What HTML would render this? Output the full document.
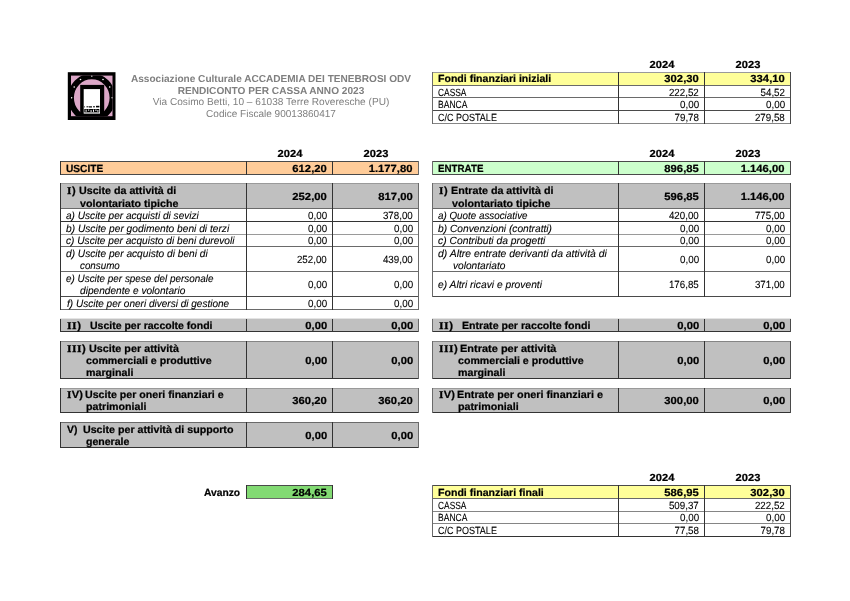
<!DOCTYPE html>
<html><head><meta charset="utf-8"><title>Rendiconto per cassa 2023</title>
<style>
html,body{margin:0;padding:0;background:#fff}
#p{position:relative;width:850px;height:601px;overflow:hidden;background:#fff;font-family:"Liberation Sans",sans-serif;will-change:transform;text-rendering:geometricPrecision}
#p div{position:absolute}
.t{position:absolute;white-space:pre;line-height:1;display:block}
.b{font-weight:bold}.k{-webkit-text-stroke:0.22px #000}.n{-webkit-text-stroke:0.1px #000}.i{font-style:italic}.s{font-family:"Liberation Serif",serif;font-style:normal;-webkit-text-stroke:0.3px #000;letter-spacing:0.5px}
</style></head><body><div id="p">
<div style="left:432px;top:72px;width:359px;height:14px;background:#FFFF99"></div>
<div style="left:60px;top:161px;width:359px;height:14px;background:#FFCC99"></div>
<div style="left:432px;top:161px;width:359px;height:14px;background:#CCFFCC"></div>
<div style="left:60px;top:183px;width:359px;height:26px;background:#C0C0C0"></div>
<div style="left:432px;top:183px;width:359px;height:26px;background:#C0C0C0"></div>
<div style="left:60px;top:318px;width:359px;height:1px;background:#e4e4e4"></div>
<div style="left:60px;top:319px;width:359px;height:13px;background:#C0C0C0"></div>
<div style="left:432px;top:318px;width:359px;height:1px;background:#e4e4e4"></div>
<div style="left:432px;top:319px;width:359px;height:13px;background:#C0C0C0"></div>
<div style="left:60px;top:341px;width:359px;height:38px;background:#C0C0C0"></div>
<div style="left:432px;top:341px;width:359px;height:38px;background:#C0C0C0"></div>
<div style="left:60px;top:388px;width:359px;height:25px;background:#C0C0C0"></div>
<div style="left:432px;top:388px;width:359px;height:25px;background:#C0C0C0"></div>
<div style="left:60px;top:422px;width:359px;height:26px;background:#C0C0C0"></div>
<div style="left:246px;top:485px;width:87px;height:14px;background:#82DA73"></div>
<div style="left:432px;top:485px;width:359px;height:14px;background:#FFFF99"></div>
<div style="left:432px;top:72px;width:359px;height:1px;background:#9a9a9a"></div>
<div style="left:432px;top:85px;width:359px;height:1px;background:#6a6a6a"></div>
<div style="left:432px;top:97px;width:359px;height:1px;background:#6a6a6a"></div>
<div style="left:432px;top:110px;width:359px;height:1px;background:#4a4a4a"></div>
<div style="left:432px;top:123px;width:359px;height:1px;background:#858585"></div>
<div style="left:60px;top:161px;width:359px;height:1px;background:#4a4a4a"></div>
<div style="left:60px;top:174px;width:359px;height:1px;background:#4a4a4a"></div>
<div style="left:432px;top:161px;width:359px;height:1px;background:#4a4a4a"></div>
<div style="left:432px;top:174px;width:359px;height:1px;background:#4a4a4a"></div>
<div style="left:60px;top:183px;width:359px;height:1px;background:#9a9a9a"></div>
<div style="left:60px;top:208px;width:359px;height:1px;background:#6a6a6a"></div>
<div style="left:432px;top:183px;width:359px;height:1px;background:#9a9a9a"></div>
<div style="left:432px;top:208px;width:359px;height:1px;background:#6a6a6a"></div>
<div style="left:60px;top:221px;width:359px;height:1px;background:#333333"></div>
<div style="left:60px;top:234px;width:359px;height:1px;background:#9a9a9a"></div>
<div style="left:60px;top:246px;width:359px;height:1px;background:#6a6a6a"></div>
<div style="left:60px;top:271px;width:359px;height:1px;background:#6a6a6a"></div>
<div style="left:60px;top:296px;width:359px;height:1px;background:#4a4a4a"></div>
<div style="left:60px;top:309px;width:359px;height:1px;background:#6a6a6a"></div>
<div style="left:432px;top:221px;width:359px;height:1px;background:#333333"></div>
<div style="left:432px;top:234px;width:359px;height:1px;background:#9a9a9a"></div>
<div style="left:432px;top:246px;width:359px;height:1px;background:#6a6a6a"></div>
<div style="left:432px;top:271px;width:359px;height:1px;background:#6a6a6a"></div>
<div style="left:432px;top:296px;width:359px;height:1px;background:#4a4a4a"></div>
<div style="left:60px;top:331px;width:359px;height:1px;background:#333333"></div>
<div style="left:432px;top:331px;width:359px;height:1px;background:#333333"></div>
<div style="left:60px;top:341px;width:359px;height:1px;background:#858585"></div>
<div style="left:60px;top:378px;width:359px;height:1px;background:#333333"></div>
<div style="left:432px;top:341px;width:359px;height:1px;background:#858585"></div>
<div style="left:432px;top:378px;width:359px;height:1px;background:#333333"></div>
<div style="left:60px;top:388px;width:359px;height:1px;background:#9a9a9a"></div>
<div style="left:60px;top:412px;width:359px;height:1px;background:#333333"></div>
<div style="left:432px;top:388px;width:359px;height:1px;background:#9a9a9a"></div>
<div style="left:432px;top:412px;width:359px;height:1px;background:#333333"></div>
<div style="left:60px;top:422px;width:359px;height:1px;background:#6a6a6a"></div>
<div style="left:60px;top:447px;width:359px;height:1px;background:#333333"></div>
<div style="left:246px;top:485px;width:87px;height:1px;background:#4a4a4a"></div>
<div style="left:246px;top:498px;width:87px;height:1px;background:#6a6a6a"></div>
<div style="left:432px;top:485px;width:359px;height:1px;background:#4a4a4a"></div>
<div style="left:432px;top:498px;width:359px;height:1px;background:#6a6a6a"></div>
<div style="left:432px;top:511px;width:359px;height:1px;background:#858585"></div>
<div style="left:432px;top:523px;width:359px;height:1px;background:#858585"></div>
<div style="left:432px;top:536px;width:359px;height:1px;background:#333333"></div>
<div style="left:432px;top:72px;width:1px;height:14px;background:#6a6a6a"></div>
<div style="left:618px;top:72px;width:1px;height:14px;background:#333333"></div>
<div style="left:704px;top:72px;width:1px;height:14px;background:#333333"></div>
<div style="left:790px;top:72px;width:1px;height:14px;background:#4a4a4a"></div>
<div style="left:432px;top:85px;width:1px;height:13px;background:#6a6a6a"></div>
<div style="left:618px;top:85px;width:1px;height:13px;background:#333333"></div>
<div style="left:704px;top:85px;width:1px;height:13px;background:#333333"></div>
<div style="left:790px;top:85px;width:1px;height:13px;background:#4a4a4a"></div>
<div style="left:432px;top:97px;width:1px;height:14px;background:#6a6a6a"></div>
<div style="left:618px;top:97px;width:1px;height:14px;background:#333333"></div>
<div style="left:704px;top:97px;width:1px;height:14px;background:#333333"></div>
<div style="left:790px;top:97px;width:1px;height:14px;background:#4a4a4a"></div>
<div style="left:432px;top:110px;width:1px;height:14px;background:#6a6a6a"></div>
<div style="left:618px;top:110px;width:1px;height:14px;background:#333333"></div>
<div style="left:704px;top:110px;width:1px;height:14px;background:#333333"></div>
<div style="left:790px;top:110px;width:1px;height:14px;background:#4a4a4a"></div>
<div style="left:60px;top:161px;width:1px;height:14px;background:#333333"></div>
<div style="left:246px;top:161px;width:1px;height:14px;background:#333333"></div>
<div style="left:332px;top:161px;width:1px;height:14px;background:#333333"></div>
<div style="left:418px;top:161px;width:1px;height:14px;background:#6a6a6a"></div>
<div style="left:432px;top:161px;width:1px;height:14px;background:#6a6a6a"></div>
<div style="left:618px;top:161px;width:1px;height:14px;background:#333333"></div>
<div style="left:704px;top:161px;width:1px;height:14px;background:#333333"></div>
<div style="left:790px;top:161px;width:1px;height:14px;background:#4a4a4a"></div>
<div style="left:60px;top:183px;width:1px;height:26px;background:#333333"></div>
<div style="left:246px;top:183px;width:1px;height:26px;background:#333333"></div>
<div style="left:332px;top:183px;width:1px;height:26px;background:#333333"></div>
<div style="left:418px;top:183px;width:1px;height:26px;background:#6a6a6a"></div>
<div style="left:432px;top:183px;width:1px;height:26px;background:#6a6a6a"></div>
<div style="left:618px;top:183px;width:1px;height:26px;background:#333333"></div>
<div style="left:704px;top:183px;width:1px;height:26px;background:#333333"></div>
<div style="left:790px;top:183px;width:1px;height:26px;background:#4a4a4a"></div>
<div style="left:60px;top:208px;width:1px;height:14px;background:#333333"></div>
<div style="left:246px;top:208px;width:1px;height:14px;background:#333333"></div>
<div style="left:332px;top:208px;width:1px;height:14px;background:#333333"></div>
<div style="left:418px;top:208px;width:1px;height:14px;background:#6a6a6a"></div>
<div style="left:60px;top:221px;width:1px;height:14px;background:#333333"></div>
<div style="left:246px;top:221px;width:1px;height:14px;background:#333333"></div>
<div style="left:332px;top:221px;width:1px;height:14px;background:#333333"></div>
<div style="left:418px;top:221px;width:1px;height:14px;background:#6a6a6a"></div>
<div style="left:60px;top:234px;width:1px;height:13px;background:#333333"></div>
<div style="left:246px;top:234px;width:1px;height:13px;background:#333333"></div>
<div style="left:332px;top:234px;width:1px;height:13px;background:#333333"></div>
<div style="left:418px;top:234px;width:1px;height:13px;background:#6a6a6a"></div>
<div style="left:60px;top:246px;width:1px;height:26px;background:#333333"></div>
<div style="left:246px;top:246px;width:1px;height:26px;background:#333333"></div>
<div style="left:332px;top:246px;width:1px;height:26px;background:#333333"></div>
<div style="left:418px;top:246px;width:1px;height:26px;background:#6a6a6a"></div>
<div style="left:60px;top:271px;width:1px;height:26px;background:#333333"></div>
<div style="left:246px;top:271px;width:1px;height:26px;background:#333333"></div>
<div style="left:332px;top:271px;width:1px;height:26px;background:#333333"></div>
<div style="left:418px;top:271px;width:1px;height:26px;background:#6a6a6a"></div>
<div style="left:60px;top:296px;width:1px;height:14px;background:#333333"></div>
<div style="left:246px;top:296px;width:1px;height:14px;background:#333333"></div>
<div style="left:332px;top:296px;width:1px;height:14px;background:#333333"></div>
<div style="left:418px;top:296px;width:1px;height:14px;background:#6a6a6a"></div>
<div style="left:432px;top:208px;width:1px;height:14px;background:#6a6a6a"></div>
<div style="left:618px;top:208px;width:1px;height:14px;background:#333333"></div>
<div style="left:704px;top:208px;width:1px;height:14px;background:#333333"></div>
<div style="left:790px;top:208px;width:1px;height:14px;background:#4a4a4a"></div>
<div style="left:432px;top:221px;width:1px;height:14px;background:#6a6a6a"></div>
<div style="left:618px;top:221px;width:1px;height:14px;background:#333333"></div>
<div style="left:704px;top:221px;width:1px;height:14px;background:#333333"></div>
<div style="left:790px;top:221px;width:1px;height:14px;background:#4a4a4a"></div>
<div style="left:432px;top:234px;width:1px;height:13px;background:#6a6a6a"></div>
<div style="left:618px;top:234px;width:1px;height:13px;background:#333333"></div>
<div style="left:704px;top:234px;width:1px;height:13px;background:#333333"></div>
<div style="left:790px;top:234px;width:1px;height:13px;background:#4a4a4a"></div>
<div style="left:432px;top:246px;width:1px;height:26px;background:#6a6a6a"></div>
<div style="left:618px;top:246px;width:1px;height:26px;background:#333333"></div>
<div style="left:704px;top:246px;width:1px;height:26px;background:#333333"></div>
<div style="left:790px;top:246px;width:1px;height:26px;background:#4a4a4a"></div>
<div style="left:432px;top:271px;width:1px;height:26px;background:#6a6a6a"></div>
<div style="left:618px;top:271px;width:1px;height:26px;background:#333333"></div>
<div style="left:704px;top:271px;width:1px;height:26px;background:#333333"></div>
<div style="left:790px;top:271px;width:1px;height:26px;background:#4a4a4a"></div>
<div style="left:60px;top:319px;width:1px;height:13px;background:#333333"></div>
<div style="left:246px;top:319px;width:1px;height:13px;background:#333333"></div>
<div style="left:332px;top:319px;width:1px;height:13px;background:#333333"></div>
<div style="left:418px;top:319px;width:1px;height:13px;background:#6a6a6a"></div>
<div style="left:432px;top:319px;width:1px;height:13px;background:#6a6a6a"></div>
<div style="left:618px;top:319px;width:1px;height:13px;background:#333333"></div>
<div style="left:704px;top:319px;width:1px;height:13px;background:#333333"></div>
<div style="left:790px;top:319px;width:1px;height:13px;background:#4a4a4a"></div>
<div style="left:60px;top:341px;width:1px;height:38px;background:#333333"></div>
<div style="left:246px;top:341px;width:1px;height:38px;background:#333333"></div>
<div style="left:332px;top:341px;width:1px;height:38px;background:#333333"></div>
<div style="left:418px;top:341px;width:1px;height:38px;background:#6a6a6a"></div>
<div style="left:432px;top:341px;width:1px;height:38px;background:#6a6a6a"></div>
<div style="left:618px;top:341px;width:1px;height:38px;background:#333333"></div>
<div style="left:704px;top:341px;width:1px;height:38px;background:#333333"></div>
<div style="left:790px;top:341px;width:1px;height:38px;background:#4a4a4a"></div>
<div style="left:60px;top:388px;width:1px;height:25px;background:#333333"></div>
<div style="left:246px;top:388px;width:1px;height:25px;background:#333333"></div>
<div style="left:332px;top:388px;width:1px;height:25px;background:#333333"></div>
<div style="left:418px;top:388px;width:1px;height:25px;background:#6a6a6a"></div>
<div style="left:432px;top:388px;width:1px;height:25px;background:#6a6a6a"></div>
<div style="left:618px;top:388px;width:1px;height:25px;background:#333333"></div>
<div style="left:704px;top:388px;width:1px;height:25px;background:#333333"></div>
<div style="left:790px;top:388px;width:1px;height:25px;background:#4a4a4a"></div>
<div style="left:60px;top:422px;width:1px;height:26px;background:#333333"></div>
<div style="left:246px;top:422px;width:1px;height:26px;background:#333333"></div>
<div style="left:332px;top:422px;width:1px;height:26px;background:#333333"></div>
<div style="left:418px;top:422px;width:1px;height:26px;background:#6a6a6a"></div>
<div style="left:246px;top:485px;width:1px;height:14px;background:#333333"></div>
<div style="left:332px;top:485px;width:1px;height:14px;background:#333333"></div>
<div style="left:432px;top:485px;width:1px;height:14px;background:#6a6a6a"></div>
<div style="left:618px;top:485px;width:1px;height:14px;background:#333333"></div>
<div style="left:704px;top:485px;width:1px;height:14px;background:#333333"></div>
<div style="left:790px;top:485px;width:1px;height:14px;background:#4a4a4a"></div>
<div style="left:432px;top:498px;width:1px;height:14px;background:#6a6a6a"></div>
<div style="left:618px;top:498px;width:1px;height:14px;background:#333333"></div>
<div style="left:704px;top:498px;width:1px;height:14px;background:#333333"></div>
<div style="left:790px;top:498px;width:1px;height:14px;background:#4a4a4a"></div>
<div style="left:432px;top:511px;width:1px;height:13px;background:#6a6a6a"></div>
<div style="left:618px;top:511px;width:1px;height:13px;background:#333333"></div>
<div style="left:704px;top:511px;width:1px;height:13px;background:#333333"></div>
<div style="left:790px;top:511px;width:1px;height:13px;background:#4a4a4a"></div>
<div style="left:432px;top:523px;width:1px;height:14px;background:#6a6a6a"></div>
<div style="left:618px;top:523px;width:1px;height:14px;background:#333333"></div>
<div style="left:704px;top:523px;width:1px;height:14px;background:#333333"></div>
<div style="left:790px;top:523px;width:1px;height:14px;background:#4a4a4a"></div>
<span class="t b k" style="top:61.00px;font-size:10.4px;left:661.60px;transform-origin:0 0;transform:scaleX(1.0724) translateX(-50%)">2024</span>
<span class="t b k" style="top:61.00px;font-size:10.4px;left:747.60px;transform-origin:0 0;transform:scaleX(1.0724) translateX(-50%)">2023</span>
<span class="t b k" style="top:75.00px;font-size:10.4px;left:438.00px;transform-origin:0 0;transform:scaleX(1.0160)">Fondi finanziari iniziali</span>
<span class="t b k" style="top:75.00px;font-size:10.4px;right:150.90px;transform-origin:100% 0;transform:scaleX(1.0833)">302,30</span>
<span class="t b k" style="top:75.00px;font-size:10.4px;right:65.10px;transform-origin:100% 0;transform:scaleX(1.0833)">334,10</span>
<span class="t n" style="top:89.00px;font-size:10.4px;left:438.40px;transform-origin:0 0;transform:scaleX(0.8060)">CASSA</span>
<span class="t n" style="top:89.00px;font-size:10.4px;right:150.90px;transform-origin:100% 0;transform:scaleX(0.9402)">222,52</span>
<span class="t n" style="top:89.00px;font-size:10.4px;right:65.10px;transform-origin:100% 0;transform:scaleX(0.9417)">54,52</span>
<span class="t n" style="top:101.00px;font-size:10.4px;left:438.40px;transform-origin:0 0;transform:scaleX(0.8209)">BANCA</span>
<span class="t n" style="top:101.00px;font-size:10.4px;right:150.90px;transform-origin:100% 0;transform:scaleX(0.9449)">0,00</span>
<span class="t n" style="top:101.00px;font-size:10.4px;right:65.10px;transform-origin:100% 0;transform:scaleX(0.9449)">0,00</span>
<span class="t n" style="top:114.00px;font-size:10.4px;left:438.40px;transform-origin:0 0;transform:scaleX(0.8668)">C/C POSTALE</span>
<span class="t n" style="top:114.00px;font-size:10.4px;right:150.90px;transform-origin:100% 0;transform:scaleX(0.9417)">79,78</span>
<span class="t n" style="top:114.00px;font-size:10.4px;right:65.10px;transform-origin:100% 0;transform:scaleX(0.9402)">279,58</span>
<span class="t b k" style="top:150.00px;font-size:10.4px;left:289.60px;transform-origin:0 0;transform:scaleX(1.0724) translateX(-50%)">2024</span>
<span class="t b k" style="top:150.00px;font-size:10.4px;left:375.60px;transform-origin:0 0;transform:scaleX(1.0724) translateX(-50%)">2023</span>
<span class="t b k" style="top:150.00px;font-size:10.4px;left:661.60px;transform-origin:0 0;transform:scaleX(1.0724) translateX(-50%)">2024</span>
<span class="t b k" style="top:150.00px;font-size:10.4px;left:747.60px;transform-origin:0 0;transform:scaleX(1.0724) translateX(-50%)">2023</span>
<span class="t b k" style="top:165.00px;font-size:10.4px;left:66.20px;transform-origin:0 0;transform:scaleX(0.9761)">USCITE</span>
<span class="t b k" style="top:165.00px;font-size:10.4px;right:522.90px;transform-origin:100% 0;transform:scaleX(1.0833)">612,20</span>
<span class="t b k" style="top:165.00px;font-size:10.4px;right:437.10px;transform-origin:100% 0;transform:scaleX(1.0822)">1.177,80</span>
<span class="t b k" style="top:165.00px;font-size:10.4px;left:438.40px;transform-origin:0 0;transform:scaleX(0.9400)">ENTRATE</span>
<span class="t b k" style="top:165.00px;font-size:10.4px;right:150.90px;transform-origin:100% 0;transform:scaleX(1.0833)">896,85</span>
<span class="t b k" style="top:165.00px;font-size:10.4px;right:65.10px;transform-origin:100% 0;transform:scaleX(1.0822)">1.146,00</span>
<span class="t b k" style="top:187.00px;font-size:10.4px;left:66.60px;transform-origin:0 0;transform:scaleX(1.0729)"><i class="s">I</i>)</span>
<span class="t b k" style="top:187.00px;font-size:10.4px;left:78.70px;transform-origin:0 0;transform:scaleX(1.0264)">Uscite da attività di</span>
<span class="t b k" style="top:200.00px;font-size:10.4px;left:79.80px;transform-origin:0 0;transform:scaleX(1.0267)">volontariato tipiche</span>
<span class="t b k" style="top:193.00px;font-size:10.4px;right:522.90px;transform-origin:100% 0;transform:scaleX(1.0833)">252,00</span>
<span class="t b k" style="top:193.00px;font-size:10.4px;right:437.10px;transform-origin:100% 0;transform:scaleX(1.0833)">817,00</span>
<span class="t b k" style="top:187.00px;font-size:10.4px;left:438.90px;transform-origin:0 0;transform:scaleX(1.0729)"><i class="s">I</i>)</span>
<span class="t b k" style="top:187.00px;font-size:10.4px;left:451.10px;transform-origin:0 0;transform:scaleX(1.0311)">Entrate da attività di</span>
<span class="t b k" style="top:200.00px;font-size:10.4px;left:452.40px;transform-origin:0 0;transform:scaleX(1.0267)">volontariato tipiche</span>
<span class="t b k" style="top:193.00px;font-size:10.4px;right:150.90px;transform-origin:100% 0;transform:scaleX(1.0833)">596,85</span>
<span class="t b k" style="top:193.00px;font-size:10.4px;right:65.10px;transform-origin:100% 0;transform:scaleX(1.0822)">1.146,00</span>
<span class="t i n" style="top:212.00px;font-size:10.4px;left:66.00px;transform-origin:0 0;transform:scaleX(0.9703)">a) Uscite per acquisti di sevizi</span>
<span class="t n" style="top:212.00px;font-size:10.4px;right:522.90px;transform-origin:100% 0;transform:scaleX(0.9449)">0,00</span>
<span class="t n" style="top:212.00px;font-size:10.4px;right:437.10px;transform-origin:100% 0;transform:scaleX(0.9402)">378,00</span>
<span class="t i n" style="top:225.00px;font-size:10.4px;left:66.00px;transform-origin:0 0;transform:scaleX(0.9811)">b) Uscite per godimento beni di terzi</span>
<span class="t n" style="top:225.00px;font-size:10.4px;right:522.90px;transform-origin:100% 0;transform:scaleX(0.9449)">0,00</span>
<span class="t n" style="top:225.00px;font-size:10.4px;right:437.10px;transform-origin:100% 0;transform:scaleX(0.9449)">0,00</span>
<span class="t i n" style="top:237.00px;font-size:10.4px;left:66.00px;transform-origin:0 0;transform:scaleX(0.9758)">c) Uscite per acquisto di beni durevoli</span>
<span class="t n" style="top:237.00px;font-size:10.4px;right:522.90px;transform-origin:100% 0;transform:scaleX(0.9449)">0,00</span>
<span class="t n" style="top:237.00px;font-size:10.4px;right:437.10px;transform-origin:100% 0;transform:scaleX(0.9449)">0,00</span>
<span class="t i n" style="top:250.00px;font-size:10.4px;left:66.00px;transform-origin:0 0;transform:scaleX(0.9775)">d) Uscite per acquisto di beni di</span>
<span class="t i n" style="top:262.00px;font-size:10.4px;left:80.30px;transform-origin:0 0;transform:scaleX(0.9438)">consumo</span>
<span class="t n" style="top:256.00px;font-size:10.4px;right:522.90px;transform-origin:100% 0;transform:scaleX(0.9402)">252,00</span>
<span class="t n" style="top:256.00px;font-size:10.4px;right:437.10px;transform-origin:100% 0;transform:scaleX(0.9402)">439,00</span>
<span class="t i n" style="top:275.00px;font-size:10.4px;left:66.00px;transform-origin:0 0;transform:scaleX(0.9529)">e) Uscite per spese del personale</span>
<span class="t i n" style="top:287.00px;font-size:10.4px;left:80.30px;transform-origin:0 0;transform:scaleX(0.9747)">dipendente e volontario</span>
<span class="t n" style="top:281.00px;font-size:10.4px;right:522.90px;transform-origin:100% 0;transform:scaleX(0.9449)">0,00</span>
<span class="t n" style="top:281.00px;font-size:10.4px;right:437.10px;transform-origin:100% 0;transform:scaleX(0.9449)">0,00</span>
<span class="t i n" style="top:300.00px;font-size:10.4px;left:66.90px;transform-origin:0 0;transform:scaleX(0.9651)">f) Uscite per oneri diversi di gestione</span>
<span class="t n" style="top:300.00px;font-size:10.4px;right:522.90px;transform-origin:100% 0;transform:scaleX(0.9449)">0,00</span>
<span class="t n" style="top:300.00px;font-size:10.4px;right:437.10px;transform-origin:100% 0;transform:scaleX(0.9449)">0,00</span>
<span class="t i n" style="top:212.00px;font-size:10.4px;left:438.40px;transform-origin:0 0;transform:scaleX(0.9449)">a) Quote associative</span>
<span class="t n" style="top:212.00px;font-size:10.4px;right:150.90px;transform-origin:100% 0;transform:scaleX(0.9402)">420,00</span>
<span class="t n" style="top:212.00px;font-size:10.4px;right:65.10px;transform-origin:100% 0;transform:scaleX(0.9402)">775,00</span>
<span class="t i n" style="top:225.00px;font-size:10.4px;left:438.40px;transform-origin:0 0;transform:scaleX(0.9821)">b) Convenzioni (contratti)</span>
<span class="t n" style="top:225.00px;font-size:10.4px;right:150.90px;transform-origin:100% 0;transform:scaleX(0.9449)">0,00</span>
<span class="t n" style="top:225.00px;font-size:10.4px;right:65.10px;transform-origin:100% 0;transform:scaleX(0.9449)">0,00</span>
<span class="t i n" style="top:237.00px;font-size:10.4px;left:438.40px;transform-origin:0 0;transform:scaleX(0.9934)">c) Contributi da progetti</span>
<span class="t n" style="top:237.00px;font-size:10.4px;right:150.90px;transform-origin:100% 0;transform:scaleX(0.9449)">0,00</span>
<span class="t n" style="top:237.00px;font-size:10.4px;right:65.10px;transform-origin:100% 0;transform:scaleX(0.9449)">0,00</span>
<span class="t i n" style="top:250.00px;font-size:10.4px;left:438.40px;transform-origin:0 0;transform:scaleX(0.9997)">d) Altre entrate derivanti da attività di</span>
<span class="t i n" style="top:262.00px;font-size:10.4px;left:452.90px;transform-origin:0 0;transform:scaleX(0.9770)">volontariato</span>
<span class="t n" style="top:256.00px;font-size:10.4px;right:150.90px;transform-origin:100% 0;transform:scaleX(0.9449)">0,00</span>
<span class="t n" style="top:256.00px;font-size:10.4px;right:65.10px;transform-origin:100% 0;transform:scaleX(0.9449)">0,00</span>
<span class="t i n" style="top:281.00px;font-size:10.4px;left:438.40px;transform-origin:0 0;transform:scaleX(0.9877)">e) Altri ricavi e proventi</span>
<span class="t n" style="top:281.00px;font-size:10.4px;right:150.90px;transform-origin:100% 0;transform:scaleX(0.9402)">176,85</span>
<span class="t n" style="top:281.00px;font-size:10.4px;right:65.10px;transform-origin:100% 0;transform:scaleX(0.9402)">371,00</span>
<span class="t b k" style="top:322.00px;font-size:10.4px;left:66.60px;transform-origin:0 0;transform:scaleX(1.1144)"><i class="s">II</i>)</span>
<span class="t b k" style="top:322.00px;font-size:10.4px;left:89.70px;transform-origin:0 0;transform:scaleX(1.0102)">Uscite per raccolte fondi</span>
<span class="t b k" style="top:322.00px;font-size:10.4px;right:522.90px;transform-origin:100% 0;transform:scaleX(1.0818)">0,00</span>
<span class="t b k" style="top:322.00px;font-size:10.4px;right:437.10px;transform-origin:100% 0;transform:scaleX(1.0818)">0,00</span>
<span class="t b k" style="top:322.00px;font-size:10.4px;left:438.90px;transform-origin:0 0;transform:scaleX(1.1144)"><i class="s">II</i>)</span>
<span class="t b k" style="top:322.00px;font-size:10.4px;left:462.00px;transform-origin:0 0;transform:scaleX(1.0209)">Entrate per raccolte fondi</span>
<span class="t b k" style="top:322.00px;font-size:10.4px;right:150.90px;transform-origin:100% 0;transform:scaleX(1.0818)">0,00</span>
<span class="t b k" style="top:322.00px;font-size:10.4px;right:65.10px;transform-origin:100% 0;transform:scaleX(1.0818)">0,00</span>
<span class="t b k" style="top:345.00px;font-size:10.4px;left:66.60px;transform-origin:0 0;transform:scaleX(1.0988)"><i class="s">III</i>)</span>
<span class="t b k" style="top:345.00px;font-size:10.4px;left:88.70px;transform-origin:0 0;transform:scaleX(1.0378)">Uscite per attività</span>
<span class="t b k" style="top:357.00px;font-size:10.4px;left:86.10px;transform-origin:0 0;transform:scaleX(1.0211)">commerciali e produttive</span>
<span class="t b k" style="top:369.00px;font-size:10.4px;left:86.10px;transform-origin:0 0;transform:scaleX(1.0259)">marginali</span>
<span class="t b k" style="top:357.00px;font-size:10.4px;right:522.90px;transform-origin:100% 0;transform:scaleX(1.0818)">0,00</span>
<span class="t b k" style="top:357.00px;font-size:10.4px;right:437.10px;transform-origin:100% 0;transform:scaleX(1.0818)">0,00</span>
<span class="t b k" style="top:345.00px;font-size:10.4px;left:438.90px;transform-origin:0 0;transform:scaleX(1.0988)"><i class="s">III</i>)</span>
<span class="t b k" style="top:345.00px;font-size:10.4px;left:460.00px;transform-origin:0 0;transform:scaleX(1.0566)">Entrate per attività</span>
<span class="t b k" style="top:357.00px;font-size:10.4px;left:458.00px;transform-origin:0 0;transform:scaleX(1.0211)">commerciali e produttive</span>
<span class="t b k" style="top:369.00px;font-size:10.4px;left:458.00px;transform-origin:0 0;transform:scaleX(1.0259)">marginali</span>
<span class="t b k" style="top:357.00px;font-size:10.4px;right:150.90px;transform-origin:100% 0;transform:scaleX(1.0818)">0,00</span>
<span class="t b k" style="top:357.00px;font-size:10.4px;right:65.10px;transform-origin:100% 0;transform:scaleX(1.0818)">0,00</span>
<span class="t b k" style="top:391.00px;font-size:10.4px;left:66.60px;transform-origin:0 0;transform:scaleX(1.0711)"><i class="s">I</i>V)</span>
<span class="t b k" style="top:391.00px;font-size:10.4px;left:85.40px;transform-origin:0 0;transform:scaleX(1.0213)">Uscite per oneri finanziari e</span>
<span class="t b k" style="top:403.00px;font-size:10.4px;left:86.10px;transform-origin:0 0;transform:scaleX(1.0256)">patrimoniali</span>
<span class="t b k" style="top:397.00px;font-size:10.4px;right:522.90px;transform-origin:100% 0;transform:scaleX(1.0833)">360,20</span>
<span class="t b k" style="top:397.00px;font-size:10.4px;right:437.10px;transform-origin:100% 0;transform:scaleX(1.0833)">360,20</span>
<span class="t b k" style="top:391.00px;font-size:10.4px;left:438.90px;transform-origin:0 0;transform:scaleX(1.0711)"><i class="s">I</i>V)</span>
<span class="t b k" style="top:391.00px;font-size:10.4px;left:456.70px;transform-origin:0 0;transform:scaleX(1.0398)">Entrate per oneri finanziari e</span>
<span class="t b k" style="top:403.00px;font-size:10.4px;left:458.00px;transform-origin:0 0;transform:scaleX(1.0290)">patrimoniali</span>
<span class="t b k" style="top:397.00px;font-size:10.4px;right:150.90px;transform-origin:100% 0;transform:scaleX(1.0833)">300,00</span>
<span class="t b k" style="top:397.00px;font-size:10.4px;right:65.10px;transform-origin:100% 0;transform:scaleX(1.0818)">0,00</span>
<span class="t b k" style="top:426.00px;font-size:10.4px;left:66.60px;transform-origin:0 0;transform:scaleX(1.0009)">V)</span>
<span class="t b k" style="top:426.00px;font-size:10.4px;left:83.20px;transform-origin:0 0;transform:scaleX(1.0255)">Uscite per attività di supporto</span>
<span class="t b k" style="top:438.00px;font-size:10.4px;left:86.10px;transform-origin:0 0;transform:scaleX(1.0152)">generale</span>
<span class="t b k" style="top:432.00px;font-size:10.4px;right:522.90px;transform-origin:100% 0;transform:scaleX(1.0818)">0,00</span>
<span class="t b k" style="top:432.00px;font-size:10.4px;right:437.10px;transform-origin:100% 0;transform:scaleX(1.0818)">0,00</span>
<span class="t b k" style="top:489.00px;font-size:10.4px;left:204.40px;transform-origin:0 0;transform:scaleX(0.9869)">Avanzo</span>
<span class="t b k" style="top:489.00px;font-size:10.4px;right:522.90px;transform-origin:100% 0;transform:scaleX(1.0833)">284,65</span>
<span class="t b k" style="top:474.00px;font-size:10.4px;left:661.60px;transform-origin:0 0;transform:scaleX(1.0724) translateX(-50%)">2024</span>
<span class="t b k" style="top:474.00px;font-size:10.4px;left:747.60px;transform-origin:0 0;transform:scaleX(1.0724) translateX(-50%)">2023</span>
<span class="t b k" style="top:489.00px;font-size:10.4px;left:438.00px;transform-origin:0 0;transform:scaleX(1.0181)">Fondi finanziari finali</span>
<span class="t b k" style="top:489.00px;font-size:10.4px;right:150.90px;transform-origin:100% 0;transform:scaleX(1.0833)">586,95</span>
<span class="t b k" style="top:489.00px;font-size:10.4px;right:65.10px;transform-origin:100% 0;transform:scaleX(1.0833)">302,30</span>
<span class="t n" style="top:502.00px;font-size:10.4px;left:438.40px;transform-origin:0 0;transform:scaleX(0.8060)">CASSA</span>
<span class="t n" style="top:502.00px;font-size:10.4px;right:150.90px;transform-origin:100% 0;transform:scaleX(0.9402)">509,37</span>
<span class="t n" style="top:502.00px;font-size:10.4px;right:65.10px;transform-origin:100% 0;transform:scaleX(0.9402)">222,52</span>
<span class="t n" style="top:514.00px;font-size:10.4px;left:438.40px;transform-origin:0 0;transform:scaleX(0.8209)">BANCA</span>
<span class="t n" style="top:514.00px;font-size:10.4px;right:150.90px;transform-origin:100% 0;transform:scaleX(0.9449)">0,00</span>
<span class="t n" style="top:514.00px;font-size:10.4px;right:65.10px;transform-origin:100% 0;transform:scaleX(0.9449)">0,00</span>
<span class="t n" style="top:527.00px;font-size:10.4px;left:438.40px;transform-origin:0 0;transform:scaleX(0.8668)">C/C POSTALE</span>
<span class="t n" style="top:527.00px;font-size:10.4px;right:150.90px;transform-origin:100% 0;transform:scaleX(0.9417)">77,58</span>
<span class="t n" style="top:527.00px;font-size:10.4px;right:65.10px;transform-origin:100% 0;transform:scaleX(0.9417)">79,78</span>
<span class="t b" style="top:75.00px;font-size:10.08px;color:#7f7f7f;left:270.80px;transform-origin:0 0;transform:scaleX(0.9987) translateX(-50%)">Associazione Culturale ACCADEMIA DEI TENEBROSI ODV</span>
<span class="t b" style="top:87.00px;font-size:10.08px;color:#7f7f7f;left:270.80px;transform-origin:0 0;transform:scaleX(1.0031) translateX(-50%)">RENDICONTO PER CASSA ANNO 2023</span>
<span class="t" style="top:98.00px;font-size:10.08px;color:#7f7f7f;left:270.80px;transform-origin:0 0;transform:scaleX(1.0024) translateX(-50%)">Via Cosimo Betti, 10 – 61038 Terre Roveresche (PU)</span>
<span class="t" style="top:110.00px;font-size:10.08px;color:#7f7f7f;left:270.80px;transform-origin:0 0;transform:scaleX(0.9942) translateX(-50%)">Codice Fiscale 90013860417</span>
<svg style="position:absolute;left:67px;top:71px" width="50" height="50" viewBox="67 71 50 50">
<rect x="67.8" y="72.2" width="47.7" height="47.8" fill="#000"/>
<rect x="71" y="75.6" width="41.5" height="40.6" fill="#DBA7C7"/>
<clipPath id="lc"><rect x="71" y="75.6" width="41.5" height="40.6"/></clipPath>
<g clip-path="url(#lc)">
<ellipse cx="91.75" cy="97.8" rx="20.8" ry="21.5" fill="none" stroke="#000" stroke-width="5.9"/>
<rect x="80.2" y="84.9" width="24" height="33" fill="#000"/>
<rect x="83.7" y="89.1" width="16.3" height="24.5" fill="#fff"/>
<g fill="#fff">
<circle cx="91.8" cy="76" r="0.8"/><circle cx="80.5" cy="79.5" r="0.8"/><circle cx="103" cy="79.5" r="0.8"/>
<circle cx="74.2" cy="87" r="0.8"/><circle cx="109.7" cy="87" r="0.8"/>
<circle cx="71.6" cy="97.8" r="0.8"/><circle cx="112.2" cy="97.8" r="0.8"/>
</g>
<g fill="#000">
<rect x="84" y="106.5" width="1" height="0.8"/><rect x="86.5" y="106.3" width="2" height="1"/><rect x="89" y="106.3" width="3" height="1.2"/><rect x="93" y="106.3" width="2" height="1"/><rect x="96" y="105.8" width="3.4" height="1.6"/>
<rect x="84.3" y="109" width="15" height="3.4"/>
</g>
<g fill="#fff">
<rect x="85.6" y="109.6" width="1" height="2.2"/><rect x="88" y="109.6" width="1.2" height="1"/><rect x="90.5" y="110.2" width="1.2" height="1.6"/><rect x="93" y="109.6" width="1" height="2.2"/><rect x="95.3" y="109.6" width="1.2" height="1.2"/><rect x="97.4" y="110" width="1" height="1.8"/>
</g>
</g>
</svg>

</div></body></html>
